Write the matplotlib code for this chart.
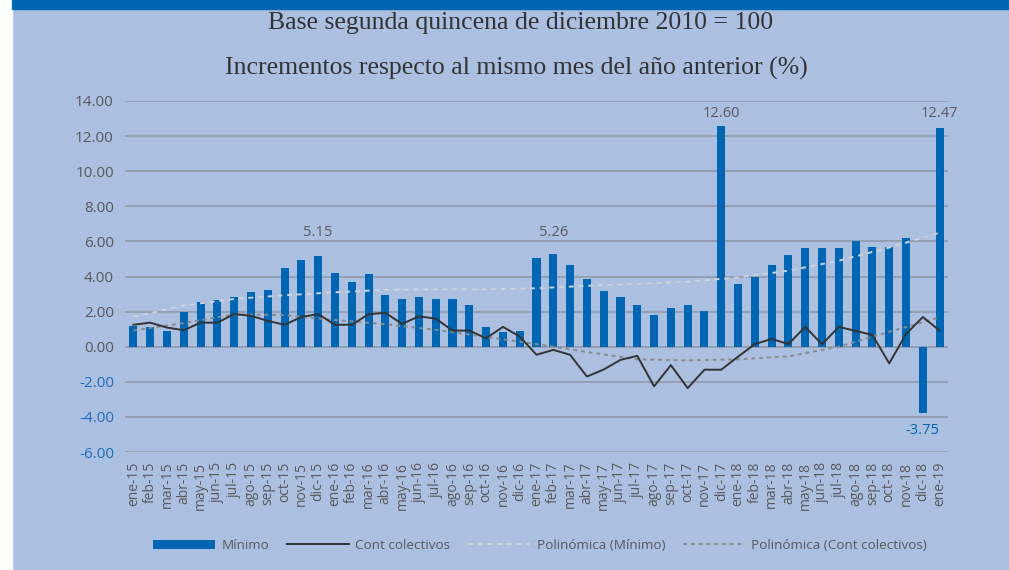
import numpy as np
import matplotlib
matplotlib.use("Agg")
from matplotlib import pyplot as plt
from matplotlib.patches import Rectangle

# datos
meses = ['ene', 'feb', 'mar', 'abr', 'may', 'jun', 'jul', 'ago', 'sep', 'oct', 'nov', 'dic']
anios = ['15', '16', '17', '18']
etiquetas = [m + '-' + a for a in anios for m in meses] + ['ene-19']

minimo = [1.20, 1.15, 0.90, 2.00, 2.55, 2.65, 2.85, 3.10, 3.25, 4.50, 4.95, 5.15,
          4.20, 3.70, 4.15, 2.95, 2.70, 2.85, 2.70, 2.70, 2.35, 1.15, 0.85, 0.90,
          5.05, 5.26, 4.65, 3.85, 3.20, 2.85, 2.35, 1.80, 2.20, 2.35, 2.05, 12.60,
          3.60, 4.00, 4.65, 5.25, 5.60, 5.60, 5.60, 6.00, 5.70, 5.70, 6.20, -3.75,
          12.47]

cont_colectivos = [1.25, 1.37, 1.09, 0.94, 1.37, 1.37, 1.86, 1.76, 1.47, 1.25, 1.69, 1.86,
                   1.25, 1.25, 1.85, 1.93, 1.30, 1.73, 1.60, 0.92, 0.92, 0.48, 1.13, 0.58,
                   -0.46, -0.18, -0.46, -1.70, -1.30, -0.75, -0.52, -2.26, -1.05, -2.36, -1.31, -1.31,
                   -0.57, 0.15, 0.44, 0.15, 1.13, 0.14, 1.13, 0.90, 0.67, -0.95, 0.72, 1.69,
                   0.92]

# lineas de tendencia, cada tres meses
tend_idx = [0, 3, 6, 9, 12, 15, 18, 21, 24, 27, 30, 33, 36, 39, 42, 45, 48]
tend_min = [1.70, 2.35, 2.72, 2.93, 3.10, 3.24, 3.27, 3.27, 3.33, 3.47, 3.58, 3.70,
            3.95, 4.33, 4.90, 5.65, 6.49]
tend_cont = [0.92, 1.35, 1.84, 1.80, 1.52, 1.28, 0.96, 0.56, 0.15, -0.30, -0.72, -0.78,
             -0.72, -0.55, 0.00, 0.85, 1.67]

# etiquetas de datos (indice, texto, altura)
etiq_idx = [11, 25, 35, 48, 47]
etiq_txt = ['5.15', '5.26', '12.60', '12.47', '-3.75']
etiq_y = [6.5, 6.5, 13.3, 13.3, -4.8]

fondo = '#abbfe0'
azul = '#0066b3'
gris = '#595959'

x = np.arange(len(etiquetas))

fig = plt.figure(figsize=(10.09, 5.70), dpi=100, facecolor=fondo)
fig.patches.append(Rectangle((0, 0), 12 / 1009, 1, transform=fig.transFigure,
                             color='white', zorder=0))
fig.patches.append(Rectangle((12 / 1009, 1 - 9 / 570), 1, 9 / 570, transform=fig.transFigure,
                             color=azul, zorder=0))

fig.text(0.516, 0.960, 'Base segunda quincena de diciembre 2010 = 100', ha='center', va='center',
         fontsize=18.5, family='Liberation Serif', color='#333333')
fig.text(0.512, 0.880, 'Incrementos respecto al mismo mes del año anterior (%)', ha='center',
         va='center', fontsize=18.5, family='Liberation Serif', color='#333333')

ax = fig.add_axes([125 / 1009, 1 - 452 / 570, 823 / 1009, 351 / 570])
ax.set_facecolor(fondo)

b = ax.bar(x, minimo, width=0.48, color=azul, zorder=2)
l1, = ax.plot(x, cont_colectivos, color='#333333', lw=1.4, zorder=4)
l2, = ax.plot(tend_idx, tend_min, color='#cfd3da', lw=1.4, ls=(0, (2.5, 2.5)), zorder=3)
l3, = ax.plot(tend_idx, tend_cont, color='#8a8a8a', lw=1.4, ls=(0, (2, 2)), zorder=3)

for i, t, yy in zip(etiq_idx, etiq_txt, etiq_y):
    ax.text(i, yy, t, ha='center', va='center', fontsize=10.5, family='Open Sans',
            color=azul if t.startswith('-') else gris)

ax.set_xlim(-0.5, len(etiquetas) - 0.5)
ax.set_ylim(-6, 14)
ax.set_yticks(np.arange(-6, 15, 2))
ax.set_yticklabels(['%.2f' % v for v in np.arange(-6, 15, 2)], family='Open Sans', fontsize=11)
for lab, v in zip(ax.get_yticklabels(), np.arange(-6, 15, 2)):
    lab.set_color('#1f6fba' if v < 0 else gris)
ax.set_xticks(x)
ax.set_xticklabels(etiquetas, rotation=90, family='Open Sans', fontsize=10, color=gris)
ax.tick_params(length=0)
ax.tick_params(axis='y', pad=8)
ax.tick_params(axis='x', pad=7)
ax.grid(axis='y', color='#8e96a6', lw=1.1, zorder=0)
ax.set_axisbelow(True)
for s in ax.spines.values():
    s.set_visible(False)

leg = fig.legend([b, l1, l2, l3],
                 ['Mínimo', 'Cont colectivos', 'Polinómica (Mínimo)', 'Polinómica (Cont colectivos)'],
                 loc='center', bbox_to_anchor=(0.535, 0.043), ncol=4, frameon=False,
                 handlelength=4.6, handletextpad=0.5, columnspacing=1.3,
                 prop={'family': 'Open Sans', 'size': 9.7})
for t in leg.get_texts():
    t.set_color(gris)

fig.savefig('out.png', dpi=100, facecolor=fondo)
